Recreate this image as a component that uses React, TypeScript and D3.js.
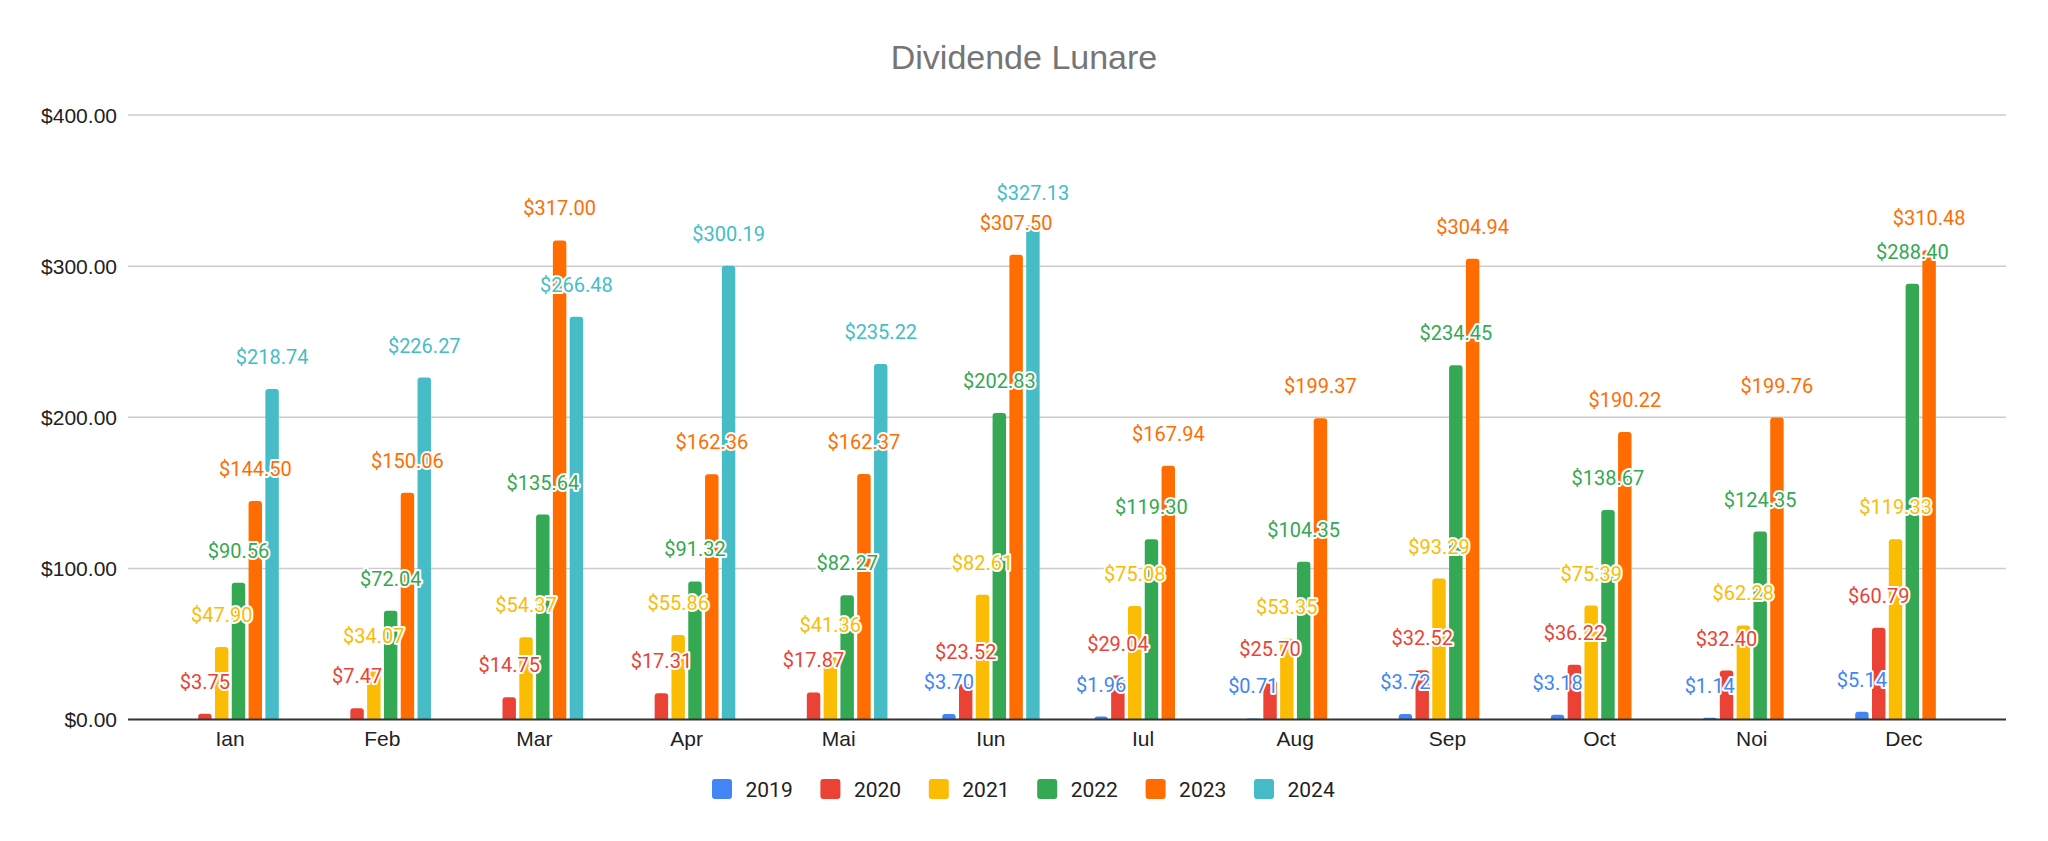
import React from 'react';
import * as d3 from 'd3';

const months = ['Ian', 'Feb', 'Mar', 'Apr', 'Mai', 'Iun', 'Iul', 'Aug', 'Sep', 'Oct', 'Noi', 'Dec'];
const years = ['2019', '2020', '2021', '2022', '2023', '2024'];
const colors = ['#4285F4', '#EA4335', '#FBBC04', '#34A853', '#FF6D01', '#46BDC6'];

const v2019 = [null, null, null, null, null, 3.70, 1.96, 0.71, 3.72, 3.18, 1.14, 5.14];
const v2020 = [3.75, 7.47, 14.75, 17.31, 17.87, 23.52, 29.04, 25.70, 32.52, 36.22, 32.40, 60.79];
const v2021 = [47.90, 34.07, 54.37, 55.86, 41.36, 82.61, 75.08, 53.35, 93.29, 75.39, 62.28, 119.33];
const v2022 = [90.56, 72.04, 135.64, 91.32, 82.27, 202.83, 119.30, 104.35, 234.45, 138.67, 124.35, 288.40];
const v2023 = [144.50, 150.06, 317.00, 162.36, 162.37, 307.50, 167.94, 199.37, 304.94, 190.22, 199.76, 310.48];
const v2024 = [218.74, 226.27, 266.48, 300.19, 235.22, 327.13, null, null, null, null, null, null];

const yTicks = [0, 100, 200, 300, 400];
const title = 'Dividende Lunare';

const series = [v2019, v2020, v2021, v2022, v2023, v2024];

const W = 2048;
const H = 841;
const plotLeft = 128;
const plotRight = 2006;

const sansFont = '"Liberation Sans", Arial, sans-serif';
const labelFont = 'Roboto, "Noto Sans", sans-serif';

// bar with rounded top corners
function barPath(x: number, y: number, w: number, h: number, r: number) {
  const rr = Math.min(r, h, w / 2);
  return `M${x},${y + h}V${y + rr}Q${x},${y} ${x + rr},${y}H${x + w - rr}Q${x + w},${y} ${x + w},${y + rr}V${y + h}Z`;
}

const App: React.FC = () => {
  const x0 = d3.scaleBand<string>().domain(months).range([154, 1980]);
  const x1 = d3.scaleBand<string>().domain(years).range([-50.4, 50.4]).paddingInner(0.2).paddingOuter(0.1);
  const y = d3.scaleLinear().domain([0, 400]).range([719.5, 115]);
  const fmt = d3.format('$,.2f');

  const bars: { key: string; cx: number; x: number; top: number; value: number; color: string }[] = [];
  series.forEach((vals, si) => {
    vals.forEach((v, mi) => {
      if (v == null) return;
      const cx = (x0(months[mi]) ?? 0) + x0.bandwidth() / 2;
      bars.push({
        key: `${si}-${mi}`,
        cx: cx + (x1(years[si]) ?? 0) + x1.bandwidth() / 2,
        x: cx + (x1(years[si]) ?? 0),
        top: y(v),
        value: v,
        color: colors[si],
      });
    });
  });

  const legendStep = 108.4;
  const legendStart = 1023 - (legendStep * (years.length - 1) + 80) / 2;

  return (
    <div style={{ position: 'fixed', left: 0, top: 0, width: W, height: H, background: '#fff' }}>
      <svg width={W} height={H} style={{ display: 'block' }}>
        <rect width={W} height={H} fill="#fff" />
        <text x={1024} y={69} textAnchor="middle" fontFamily={sansFont} fontSize={34} fill="#757575">
          {title}
        </text>

        {yTicks.map(t => (
          <g key={t}>
            {t !== 0 && (
              <line x1={plotLeft} x2={plotRight} y1={y(t)} y2={y(t)} stroke="#cccccc" strokeWidth={1.5} />
            )}
            <text x={117} y={y(t)} dy="0.36em" textAnchor="end" fontFamily={sansFont} fontSize={21} fill="#222">
              {fmt(t)}
            </text>
          </g>
        ))}

        {bars.map(b => (
          <path key={b.key} d={barPath(b.x, b.top, x1.bandwidth(), y(0) - b.top, 3)} fill={b.color} />
        ))}

        <line x1={plotLeft} x2={plotRight} y1={y(0)} y2={y(0)} stroke="#333" strokeWidth={2} />

        {months.map(m => (
          <text
            key={m}
            x={(x0(m) ?? 0) + x0.bandwidth() / 2}
            y={746}
            textAnchor="middle"
            fontFamily={sansFont}
            fontSize={21}
            fill="#222"
          >
            {m}
          </text>
        ))}

        {bars.map(b => (
          <text
            key={'l' + b.key}
            x={b.cx}
            y={b.top - 25}
            textAnchor="middle"
            fontFamily={labelFont}
            fontSize={20}
            fill={b.color}
            stroke="#fff"
            strokeWidth={4}
            strokeLinejoin="round"
            style={{ paintOrder: 'stroke' }}
          >
            {fmt(b.value)}
          </text>
        ))}

        {years.map((yr, i) => (
          <g key={yr} transform={`translate(${legendStart + i * legendStep}, 789)`}>
            <rect x={0} y={-10} width={20} height={20} rx={3} fill={colors[i]} />
            <text x={33.5} y={0} dy="0.36em" fontFamily={labelFont} fontSize={21} fill="#222">
              {yr}
            </text>
          </g>
        ))}
      </svg>
    </div>
  );
};

export default App;
